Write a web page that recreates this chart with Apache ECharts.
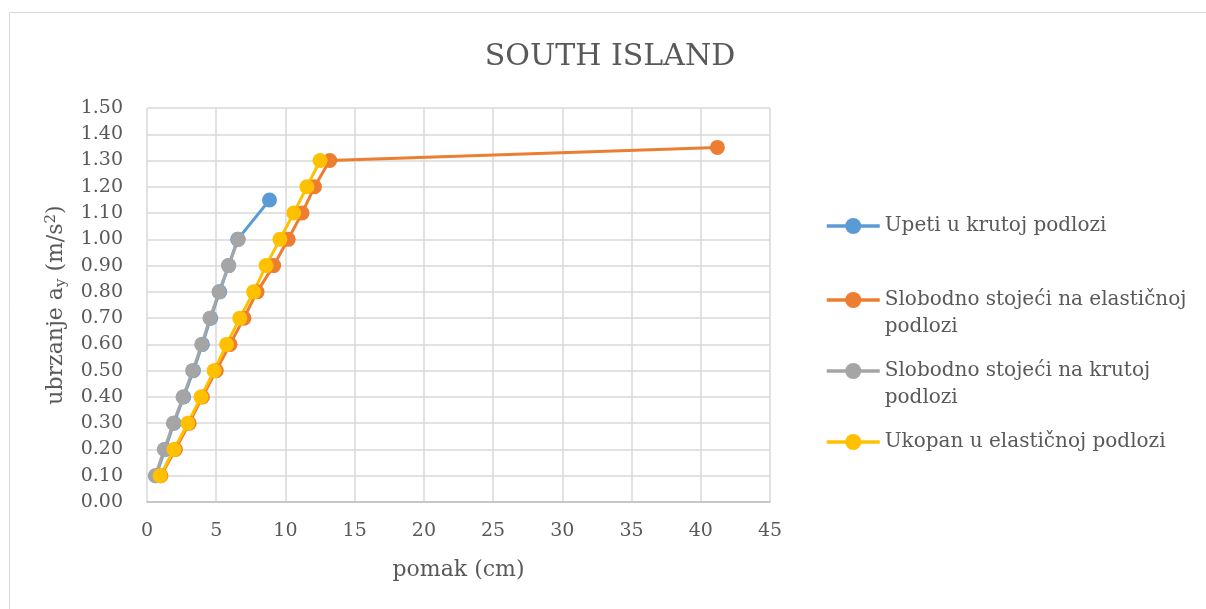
<!DOCTYPE html>
<html>
<head>
<meta charset="utf-8">
<style>
html,body{margin:0;padding:0;background:#fff;}
#chart{width:1206px;height:609px;}
</style>
<script src="https://cdn.jsdelivr.net/npm/echarts@6/dist/echarts.min.js"></script>
</head>
<body>
<div id="chart"></div>
<script>
const titleText = 'SOUTH ISLAND';
const xAxisName = 'pomak (cm)';
const seriesNames = [
  'Upeti u krutoj podlozi',
  'Slobodno stojeći na elastičnoj podlozi',
  'Slobodno stojeći na krutoj podlozi',
  'Ukopan u elastičnoj podlozi'
];
const legendLabels = [
  'Upeti u krutoj podlozi',
  'Slobodno stojeći na elastičnoj\npodlozi',
  'Slobodno stojeći na krutoj\npodlozi',
  'Ukopan u elastičnoj podlozi'
];
// acceleration (m/s^2) values
const accBlue   = [0.1,0.2,0.3,0.4,0.5,0.6,0.7,0.8,0.9,1.0,1.15];
const accOrange = [0.1,0.2,0.3,0.4,0.5,0.6,0.7,0.8,0.9,1.0,1.1,1.2,1.3,1.35];
const accGrey   = [0.1,0.2,0.3,0.4,0.5,0.6,0.7,0.8,0.9,1.0];
const accYellow = [0.1,0.2,0.3,0.4,0.5,0.6,0.7,0.8,0.9,1.0,1.1,1.2,1.3];
// displacement (cm) values
const dispBlue   = [0.65,1.3,1.95,2.65,3.35,4.0,4.6,5.25,5.9,6.55,8.85];
const dispOrange = [1.0,2.05,3.05,4.0,5.0,6.0,7.0,7.95,9.15,10.2,11.2,12.1,13.2,41.2];
const dispGrey   = [0.6,1.25,1.9,2.6,3.3,3.95,4.55,5.2,5.9,6.6];
const dispYellow = [0.95,1.95,2.95,3.9,4.85,5.75,6.7,7.7,8.6,9.6,10.6,11.55,12.5];
const colors = ['#5B9BD5','#ED7D31','#A5A5A5','#FFC000'];

const pairs = (xs, ys) => xs.map((x, i) => [x, ys[i]]);
const seriesData = [
  pairs(dispBlue, accBlue),
  pairs(dispOrange, accOrange),
  pairs(dispGrey, accGrey),
  pairs(dispYellow, accYellow)
];

const FONT = 'DejaVu Serif';
const legendCenters = [226, 300, 371, 442];
const legends = seriesNames.map((name, i) => {
  const twoLine = legendLabels[i].indexOf('\n') >= 0;
  return {
    orient: 'vertical',
    left: 825,
    top: legendCenters[i] - (twoLine ? 40.5 : 13.5),
    itemWidth: 53,
    itemHeight: 20,
    padding: 0,
    selectedMode: false,
    data: [name],
    formatter: () => (twoLine ? '\u00a0\n' : '') + legendLabels[i],
    lineStyle: {width: 3.5},
    textStyle: {fontFamily: FONT, fontSize: 20, color: '#595959', lineHeight: 27}
  };
});

const chart = echarts.init(document.getElementById('chart'), null, {renderer: 'canvas'});
chart.setOption({
  animation: false,
  backgroundColor: '#fff',
  color: colors,
  title: {
    text: titleText,
    left: 610,
    textAlign: 'center',
    top: 42,
    padding: 0,
    textStyle: {fontFamily: FONT, fontSize: 30, fontWeight: 'normal', color: '#595959'}
  },
  graphic: [{
    type: 'rect',
    shape: {x: 9.5, y: 12.5, width: 1300, height: 700},
    style: {fill: 'none', stroke: '#D9D9D9', lineWidth: 1},
    silent: true
  }],
  legend: legends,
  grid: {left: 147, right: 436, top: 108, bottom: 107, containLabel: false},
  xAxis: {
    type: 'value',
    min: 0, max: 45, interval: 5,
    name: xAxisName,
    nameLocation: 'middle',
    nameGap: 57,
    nameTextStyle: {fontFamily: FONT, fontSize: 22, color: '#595959'},
    axisLine: {show: true, lineStyle: {color: '#BFBFBF', width: 1.5}},
    axisTick: {show: false},
    axisLabel: {fontFamily: FONT, fontSize: 19, color: '#595959', margin: 20},
    splitLine: {show: true, lineStyle: {color: '#D9D9D9', width: 1.5}}
  },
  yAxis: {
    type: 'value',
    min: 0, max: 1.5, interval: 0.1,
    name: '{n|ubrzanje a}{s|y}{n| (m/s}{p|2}{n|)}',
    nameLocation: 'middle',
    nameGap: 78,
    nameRotate: 90,
    nameTextStyle: {
      fontFamily: FONT, fontSize: 22, color: '#595959',
      rich: {
        n: {fontFamily: FONT, fontSize: 22, color: '#595959'},
        s: {fontFamily: FONT, fontSize: 15, color: '#595959', verticalAlign: 'bottom', padding: [10, 0, 0, 0]},
        p: {fontFamily: FONT, fontSize: 15, color: '#595959', verticalAlign: 'top', padding: [0, 0, 10, 0]}
      }
    },
    axisLine: {show: false},
    axisTick: {show: false},
    axisLabel: {fontFamily: FONT, fontSize: 19, color: '#595959', margin: 24,
      formatter: v => v.toFixed(2)},
    splitLine: {show: true, lineStyle: {color: '#D9D9D9', width: 1.5}}
  },
  series: seriesNames.map((name, i) => ({
    name: name,
    type: 'line',
    data: seriesData[i],
    symbol: 'circle',
    symbolSize: 15,
    showAllSymbol: true,
    lineStyle: {width: 3, color: colors[i]},
    itemStyle: {color: colors[i]},
    emphasis: {disabled: true}
  }))
});
</script>
</body>
</html>
